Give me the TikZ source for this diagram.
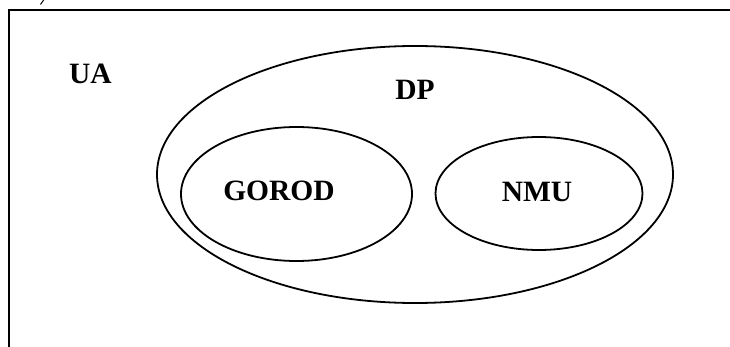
\documentclass[tikz,border=0pt]{standalone}
\usepackage{fontspec}
\setmainfont{Liberation Serif}
\usetikzlibrary{shapes.geometric}
\begin{document}
\begin{tikzpicture}[x=1pt,y=-1pt,
  set/.style={draw, ellipse, line width=1.8pt, inner sep=0pt, outer sep=0pt},
  lbl/.style={font=\fontsize{29.5}{32}\selectfont\bfseries, inner sep=0pt},
  frame/.style={line width=2.2pt}]
\useasboundingbox (0,0) rectangle (730,347);
% frame (top and left edges)
\coordinate (ftr) at (731,10);
\coordinate (ftl) at (9,10);
\coordinate (fbl) at (9,348);
\draw[frame] (ftr) -- (ftl) -- (fbl);
% fragment at top left
\coordinate (fa) at (40.5,4.5);
\coordinate (fb) at (44,-0.5);
\draw[line width=1pt] (fa) -- (fb);
% sets
\node[set, minimum width=516pt, minimum height=257pt] (dp) at (415,174.5) {};
\node[set, minimum width=231pt, minimum height=134pt] (gorod) at (296.5,194) {};
\node[set, minimum width=207pt, minimum height=113pt] (nmu) at (539,193.5) {};
% labels
\node[lbl] (ua) at (90.5,74) {UA};
\node[lbl] (dplbl) at (415,90) {DP};
\node[lbl] (gorodlbl) at (279,191) {GOROD};
\node[lbl] (nmulbl) at (537,191.5) {NMU};
\end{tikzpicture}
\end{document}
